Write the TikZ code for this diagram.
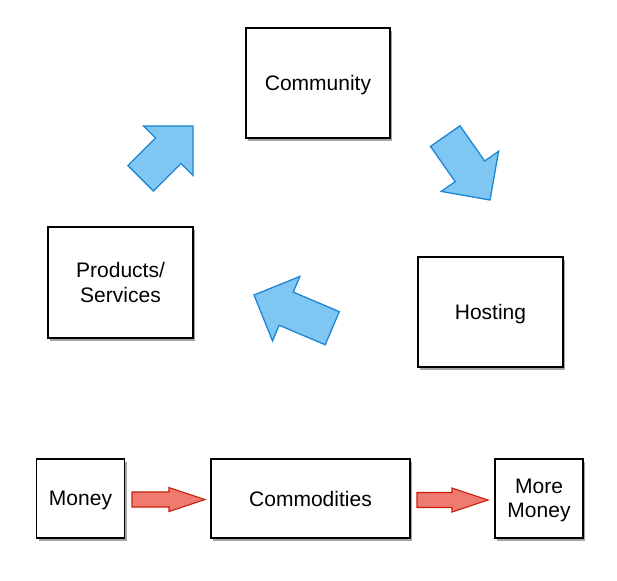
\documentclass[tikz,border=0pt]{standalone}
\usepackage{fontspec}
\setmainfont{Liberation Sans}
\usetikzlibrary{shadows}

\definecolor{arrowblue}{RGB}{128,198,242}
\definecolor{edgeblue}{RGB}{28,134,212}
\definecolor{arrowred}{RGB}{238,122,112}
\definecolor{edgered}{RGB}{200,32,10}

\tikzset{
  box/.style={draw=black, line width=1.4pt, fill=white, inner sep=0pt,
    align=center, font=\fontsize{21}{24.5}\selectfont, text depth=0pt,
    drop shadow={shadow xshift=2pt, shadow yshift=-3pt, opacity=0.35, fill=black}},
  bluearr/.style={draw=edgeblue, line width=1.3pt, fill=arrowblue, line join=miter,
    drop shadow={shadow xshift=2pt, shadow yshift=-3pt, opacity=0.2, fill=black}},
  redarr/.style={draw=edgered, line width=1.1pt, fill=arrowred, line join=miter,
    drop shadow={shadow xshift=1pt, shadow yshift=-2pt, opacity=0.2, fill=black}},
  pics/bigarrow/.style={code={
    \path[pic actions] (0,0) -- (-35,35) -- (-35,18) -- (-#1,18)
      -- (-#1,-18) -- (-35,-18) -- (-35,-35) -- cycle;}},
  pics/flatarrow/.style={code={
    \path[pic actions] (0,0) -- (-36,12) -- (-36,7.5) -- (-#1,7.5)
      -- (-#1,-7.5) -- (-36,-7.5) -- (-36,-12) -- cycle;}}
}

\begin{document}
\begin{tikzpicture}[x=1pt, y=1pt]
\useasboundingbox (0,0) rectangle (617,-580);

% the cycle
\node[box, minimum width=144pt, minimum height=110pt] (community) at (318,-83) {Community};
\node[box, minimum width=145pt, minimum height=110pt] (hosting) at (490.5,-312) {Hosting};
\node[box, minimum width=145pt, minimum height=111pt] (products) at (120.5,-282.5) {Products/\\Services};

% blue block arrows between them
\pic[bluearr, rotate=45] (toCommunity) at (193,-126) {bigarrow=74};
\pic[bluearr, rotate=-55] (toHosting) at (490,-200) {bigarrow=78};
\pic[bluearr, rotate=157] (toProducts) at (254,-295) {bigarrow=85};

% money chain
\node[box, minimum width=88pt, minimum height=79pt] (money) at (80.5,-498.5) {Money};
\node[box, minimum width=199pt, minimum height=79pt] (commodities) at (310.5,-498.5) {Commodities};
\node[box, minimum width=88pt, minimum height=79pt] (moremoney) at (539,-498.5) {More\\Money};

% red arrows
\pic[redarr] (toCommodities) at (205,-499.5) {flatarrow=73};
\pic[redarr] (toMoreMoney) at (488,-500) {flatarrow=71};

\end{tikzpicture}
\end{document}
